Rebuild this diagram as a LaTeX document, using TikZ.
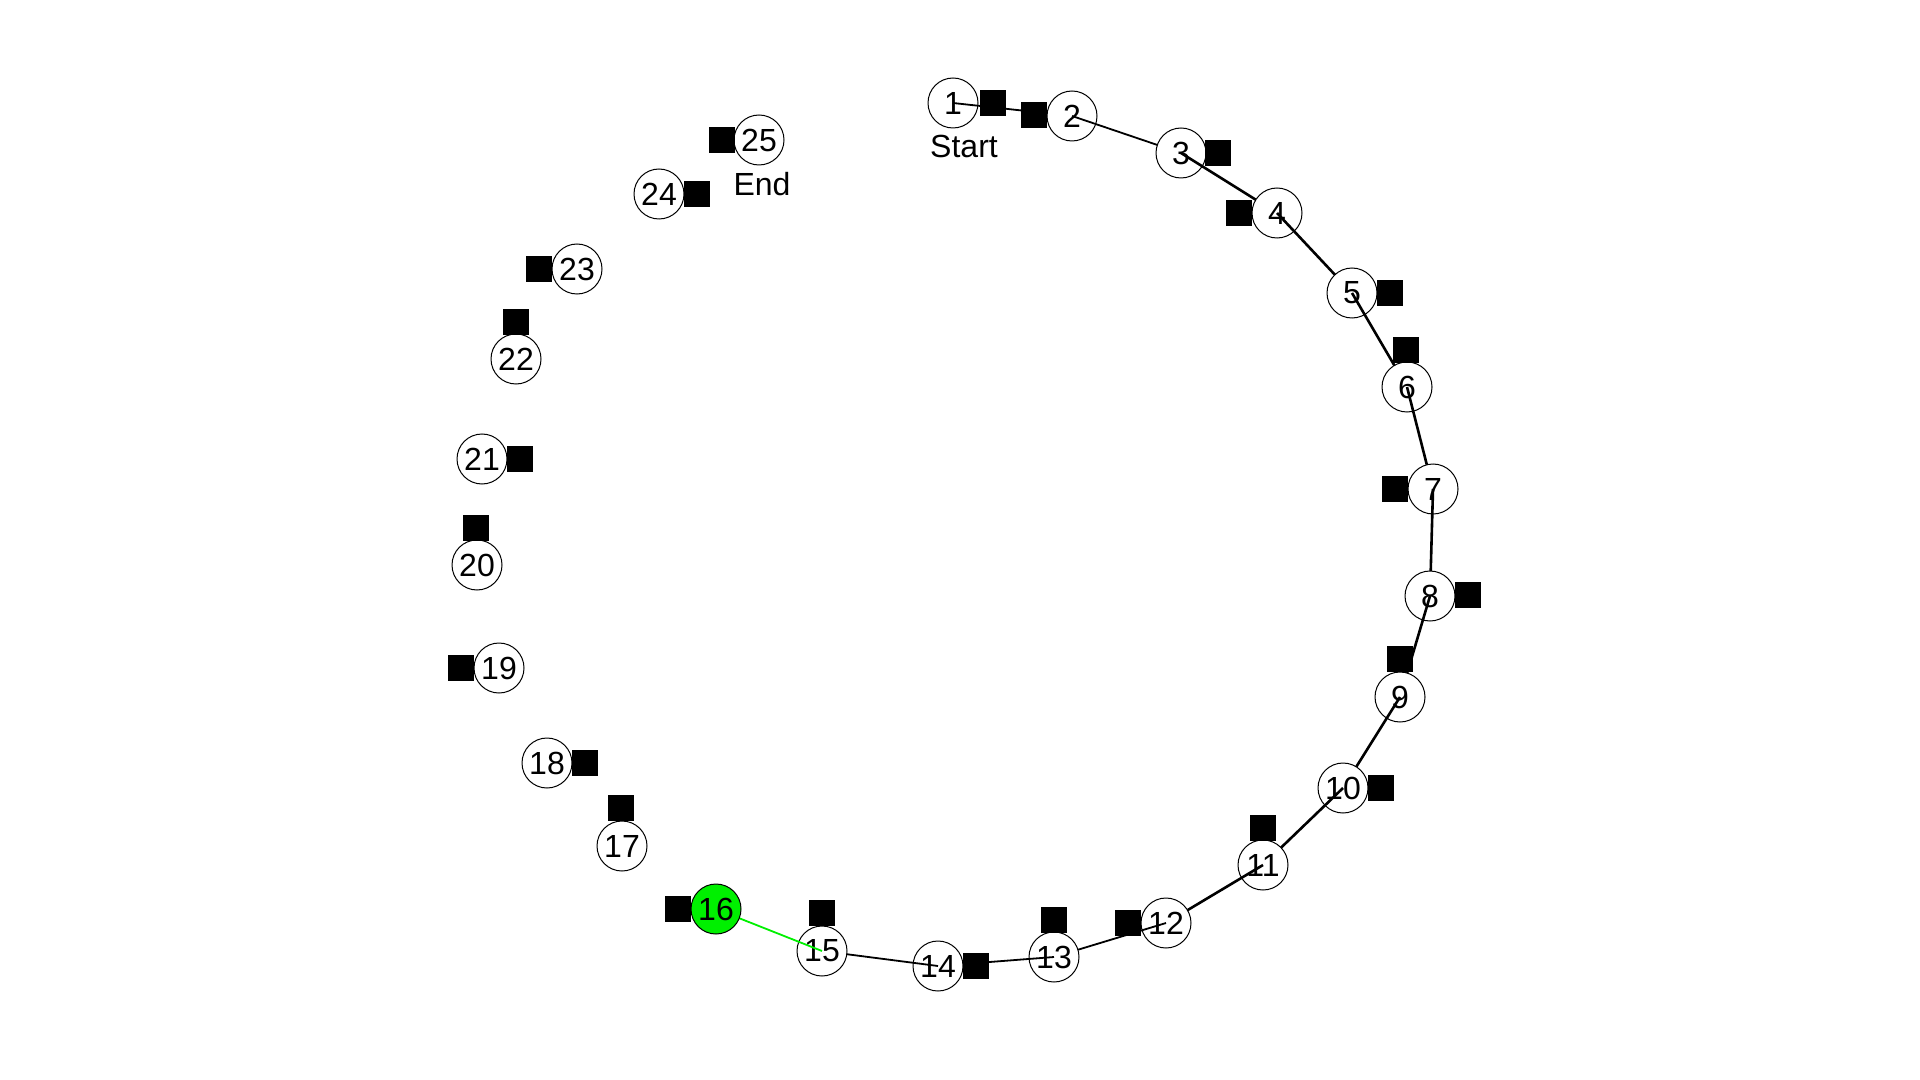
\documentclass[tikz,border=0pt]{standalone}
\usepackage{fontspec}
\setmainfont{Liberation Sans}
\definecolor{grn}{RGB}{0,240,0}
\tikzset{
  nd/.style={circle, draw=black, line width=0.5pt, fill=white, minimum size=25pt, inner sep=0pt, font=\fontsize{16}{18}\selectfont},
  gnd/.style={nd, fill=grn},
  sq/.style={fill=black, draw=none, minimum size=13pt, inner sep=0pt},
  lbl/.style={inner sep=0pt, font=\fontsize{16}{18}\selectfont},
  ed/.style={draw=black, line width=0.9pt},
  edk/.style={draw=black, line width=1.3pt},
  edg/.style={draw=grn, line width=0.9pt}
}
\begin{document}
\begin{tikzpicture}[x=0.5pt, y=-0.5pt]
\useasboundingbox (0,0) rectangle (1920,1080);
% centres
\coordinate (c1) at (953,103);
\coordinate (c2) at (1072,116);
\coordinate (c3) at (1181,153);
\coordinate (c4) at (1277,213);
\coordinate (c5) at (1352,293);
\coordinate (c6) at (1407,387);
\coordinate (c7) at (1433,489);
\coordinate (c8) at (1430,596);
\coordinate (c9) at (1400,697);
\coordinate (c10) at (1343,788);
\coordinate (c11) at (1263,865);
\coordinate (c12) at (1166,923);
\coordinate (c13) at (1054,957);
\coordinate (c14) at (938,966);
\coordinate (c15) at (822,951);
\coordinate (c16) at (716,909);
% path: node, square, then outgoing edge
\node[nd] (n1) at (c1) {1}; \node[sq] (s1) at (993,103) {};
\node[lbl] (start) at (964,146) {Start};
\draw[ed] (c1) -- (c2);
\node[nd] (n2) at (c2) {2}; \node[sq] (s2) at (1034,115) {};
\draw[ed] (c2) -- (c3);
\node[nd] (n3) at (c3) {3}; \node[sq] (s3) at (1218,153) {};
\draw[edk] (c3) -- (c4);
\node[nd] (n4) at (c4) {4}; \node[sq] (s4) at (1239,213) {};
\draw[edk] (c4) -- (c5);
\node[nd] (n5) at (c5) {5}; \node[sq] (s5) at (1390,293) {};
\draw[edk] (c5) -- (c6);
\node[nd] (n6) at (c6) {6}; \node[sq] (s6) at (1406,350) {};
\draw[edk] (c6) -- (c7);
\node[nd] (n7) at (c7) {7}; \node[sq] (s7) at (1395,489) {};
\draw[edk] (c7) -- (c8);
\node[nd] (n8) at (c8) {8}; \node[sq] (s8) at (1468,595) {};
\draw[edk] (c8) -- (c9);
\node[nd] (n9) at (c9) {9}; \node[sq] (s9) at (1400,659) {};
\draw[edk] (c9) -- (c10);
\node[nd] (n10) at (c10) {10}; \node[sq] (s10) at (1381,788) {};
\draw[edk] (c10) -- (c11);
\node[nd] (n11) at (c11) {11}; \node[sq] (s11) at (1263,828) {};
\draw[edk] (c11) -- (c12);
\node[nd] (n12) at (c12) {12}; \node[sq] (s12) at (1128,923) {};
\draw[ed] (c12) -- (c13);
\node[nd] (n13) at (c13) {13}; \node[sq] (s13) at (1054,920) {};
\draw[ed] (c13) -- (c14);
\node[nd] (n14) at (c14) {14}; \node[sq] (s14) at (976,966) {};
\draw[ed] (c14) -- (c15);
\node[nd] (n15) at (c15) {15}; \node[sq] (s15) at (822,913) {};
\draw[edg] (c15) -- (c16);
\node[gnd] (n16) at (c16) {16}; \node[sq] (s16) at (678,909) {};
% unvisited
\node[nd] (n17) at (622,846) {17}; \node[sq] (s17) at (621,808) {};
\node[nd] (n18) at (547,763) {18}; \node[sq] (s18) at (585,763) {};
\node[nd] (n19) at (499,668) {19}; \node[sq] (s19) at (461,668) {};
\node[nd] (n20) at (477,565) {20}; \node[sq] (s20) at (476,528) {};
\node[nd] (n21) at (482,459) {21}; \node[sq] (s21) at (520,459) {};
\node[nd] (n22) at (516,359) {22}; \node[sq] (s22) at (516,322) {};
\node[nd] (n23) at (577,269) {23}; \node[sq] (s23) at (539,269) {};
\node[nd] (n24) at (659,194) {24}; \node[sq] (s24) at (697,194) {};
\node[nd] (n25) at (759,140) {25}; \node[sq] (s25) at (722,140) {};
\node[lbl] (end) at (762,184) {End};
\end{tikzpicture}
\end{document}
